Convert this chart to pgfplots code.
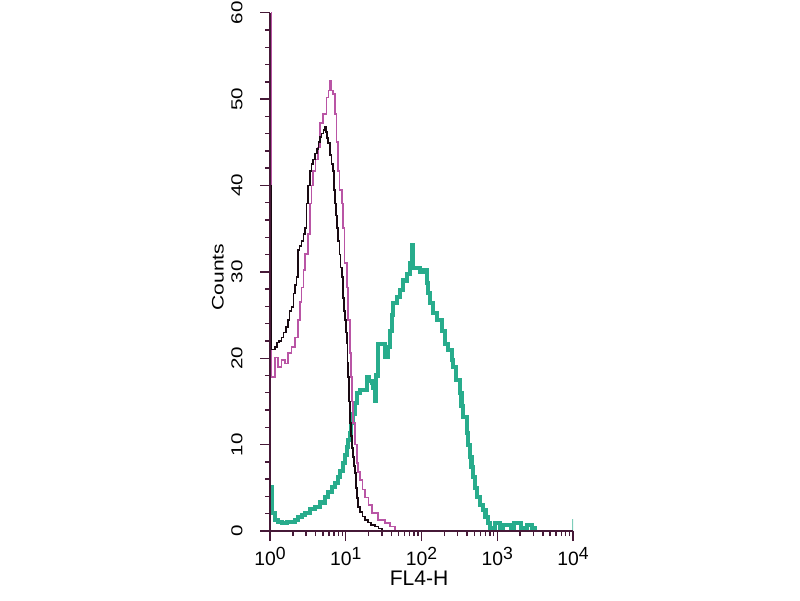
\documentclass[border=0pt]{standalone}
\usepackage{graphicx}
\usepackage{pgfplots}
\pgfplotsset{compat=1.18}
\usepackage{fontspec}
\setmainfont{Liberation Sans}
\definecolor{axc}{RGB}{70,25,55}
\definecolor{mag}{RGB}{185,85,165}
\definecolor{teal2}{RGB}{40,172,140}
\definecolor{blk}{RGB}{25,10,18}
\newcommand\dec[1]{10\raisebox{3.5pt}{\fontsize{10}{10}\selectfont #1}}
\newcommand\yl[1]{\scalebox{1.3}[1]{#1}}
\begin{document}
\begin{tikzpicture}
\path[use as bounding box] (0,0) rectangle (16cm,12cm);
\begin{axis}[
  at={(5.4cm,1.38cm)}, anchor=south west,
  scale only axis, width=6.06cm, height=10.366cm,
  xmin=0, xmax=4, ymin=0, ymax=60,
  axis lines=left,
  axis line style={-, axc, line width=1.2pt},
  tick align=outside,
  major tick length=0.2cm, minor tick length=0.1cm,
  every tick/.style={axc, line width=0.8pt},
  xtick={0,1,2,3,4},
  xticklabels={\dec{0},\dec{1},\dec{2},\dec{3},\dec{4}},
  minor xtick={0.301,0.477,0.602,0.699,0.778,0.845,0.903,0.954,
               1.301,1.477,1.602,1.699,1.778,1.845,1.903,1.954,
               2.301,2.477,2.602,2.699,2.778,2.845,2.903,2.954,
               3.301,3.477,3.602,3.699,3.778,3.845,3.903,3.954},
  ytick={0,10,20,30,40,50,60},
  yticklabels={\yl{0},\yl{10},\yl{20},\yl{30},\yl{40},\yl{50},\yl{60}},
  minor ytick={2,4,6,8,12,14,16,18,22,24,26,28,32,34,36,38,42,44,46,48,52,54,56,58},
  xticklabel style={font=\fontsize{11}{11}\selectfont, anchor=north},
  yticklabel style={font=\fontsize{9}{9}\selectfont, rotate=90, anchor=south, inner sep=0pt},
  yticklabel shift=0.34cm,
  xlabel={\fontsize{12}{12}\selectfont FL4-H},
  xlabel style={at={(axis description cs:0.492,-0.0907)}, anchor=center},
  ylabel={\scalebox{1.26}[1]{\fontsize{9.5}{9.5}\selectfont Counts}},
  ylabel style={at={(axis description cs:-0.172,0.49)}, anchor=center},
  axis on top,
]
% teal
\addplot[const plot, teal2, line width=2.3pt] coordinates {
(0,5.1)(0.022,2.1)(0.066,1.3)(0.11,1.0)(0.154,0.9)(0.22,1.0)(0.286,1.0)(0.33,1.3)(0.370,1.6)(0.42,1.9)(0.462,2.1)(0.53,2.5)(0.594,2.8)(0.66,3.3)(0.726,3.9)(0.77,4.5)(0.815,5.1)(0.86,5.6)(0.898,6.2)(0.93,7.0)(0.964,7.9)(0.99,8.8)(1.013,9.7)(1.035,10.5)(1.056,11.3)(1.075,12.5)(1.096,13.6)(1.12,14.8)(1.145,16.0)(1.188,16.3)(1.254,16.3)(1.277,17.8)(1.31,17.4)(1.343,17.1)(1.360,16.6)(1.386,15.1)(1.405,18)(1.426,21.7)(1.492,21.7)(1.518,20.1)(1.558,21.3)(1.58,23.2)(1.607,25)(1.624,26.4)(1.673,27.1)(1.716,27.9)(1.756,29.0)(1.805,29.8)(1.848,31.0)(1.871,33.1)(1.888,30.5)(1.937,30.5)(1.98,30.0)(2.020,30.2)(2.069,28.7)(2.09,27.5)(2.112,26.4)(2.152,25.2)(2.201,24.4)(2.267,23.2)(2.310,21.7)(2.350,20.9)(2.399,19.8)(2.416,19.0)(2.455,17.5)(2.508,16.0)(2.528,14.5)(2.548,13.2)(2.597,11.3)(2.62,10.0)(2.640,8.6)(2.660,7.4)(2.680,6.2)(2.705,5.0)(2.729,3.9)(2.772,3.0)(2.812,2.4)(2.845,1.6)(2.878,0.9)(2.904,0.3)(2.970,0.9)(3.036,0.4)(3.08,0.7)(3.125,0.7)(3.181,0.3)(3.22,0.9)(3.257,0.9)(3.313,0.4)(3.389,0.7)(3.455,0.35)(3.498,0)
};
\addplot[teal2!60, line width=0.6pt] coordinates {(4,0) (4,1.4)};
% magenta
\addplot[const plot, mag, line width=0.9pt] coordinates {
(0,62)(0.022,17.8)(0.066,20.1)(0.106,19.0)(0.154,19.8)(0.198,19.4)(0.238,20.6)(0.286,21.3)(0.330,22.4)(0.370,24.4)(0.395,26.5)(0.418,28.2)(0.44,30.2)(0.462,32.1)(0.502,34.4)(0.528,37.9)(0.548,40)(0.568,41.7)(0.60,43)(0.634,44.4)(0.660,47.2)(0.700,48.3)(0.748,50.2)(0.77,51)(0.792,52.1)(0.812,51)(0.832,50.6)(0.858,48.3)(0.878,45)(0.898,41.7)(0.92,39.5)(0.947,37.9)(0.964,35.1)(0.985,31)(1.013,28.2)(1.030,24.4)(1.056,20.6)(1.069,17.8)(1.082,15)(1.096,12.5)(1.12,10)(1.145,7.9)(1.165,6.8)(1.188,5.9)(1.22,4.8)(1.254,3.9)(1.30,3.0)(1.343,2.1)(1.426,1.3)(1.518,0.9)(1.584,0.5)(1.650,0)
};
% black
\addplot[const plot, blk, line width=0.9pt] coordinates {
(0,40)(0.012,21)(0.04,21)(0.066,21.3)(0.09,21.8)(0.12,22)(0.154,22.4)(0.18,23)(0.21,23.6)(0.238,24.4)(0.26,25.5)(0.286,25.9)(0.31,27.5)(0.33,28.5)(0.352,29.4)(0.37,32.5)(0.39,33)(0.418,33.6)(0.44,34.4)(0.462,35.1)(0.484,37.9)(0.505,40)(0.528,41.7)(0.55,42.5)(0.57,43)(0.594,43.7)(0.62,44.2)(0.64,45)(0.66,45.6)(0.68,46)(0.704,46.4)(0.72,46.8)(0.739,46.2)(0.755,45.5)(0.766,44.9)(0.79,43.5)(0.81,42.5)(0.832,41.7)(0.845,39.5)(0.858,37.9)(0.87,36.5)(0.881,35.1)(0.898,33.6)(0.915,32)(0.93,30.5)(0.947,29.4)(0.96,27)(0.975,25.5)(0.99,24.4)(1.001,23)(1.013,21.7)(1.022,19.5)(1.03,17.8)(1.043,15)(1.056,12.5)(1.07,11)(1.085,9.6)(1.096,8.6)(1.11,7.5)(1.122,6.7)(1.135,5)(1.15,3.8)(1.162,2.8)(1.19,2.2)(1.22,1.7)(1.254,1.3)(1.29,1.0)(1.33,0.7)(1.386,0.5)(1.43,0.3)(1.479,0)
};
\end{axis}
\end{tikzpicture}
\end{document}
